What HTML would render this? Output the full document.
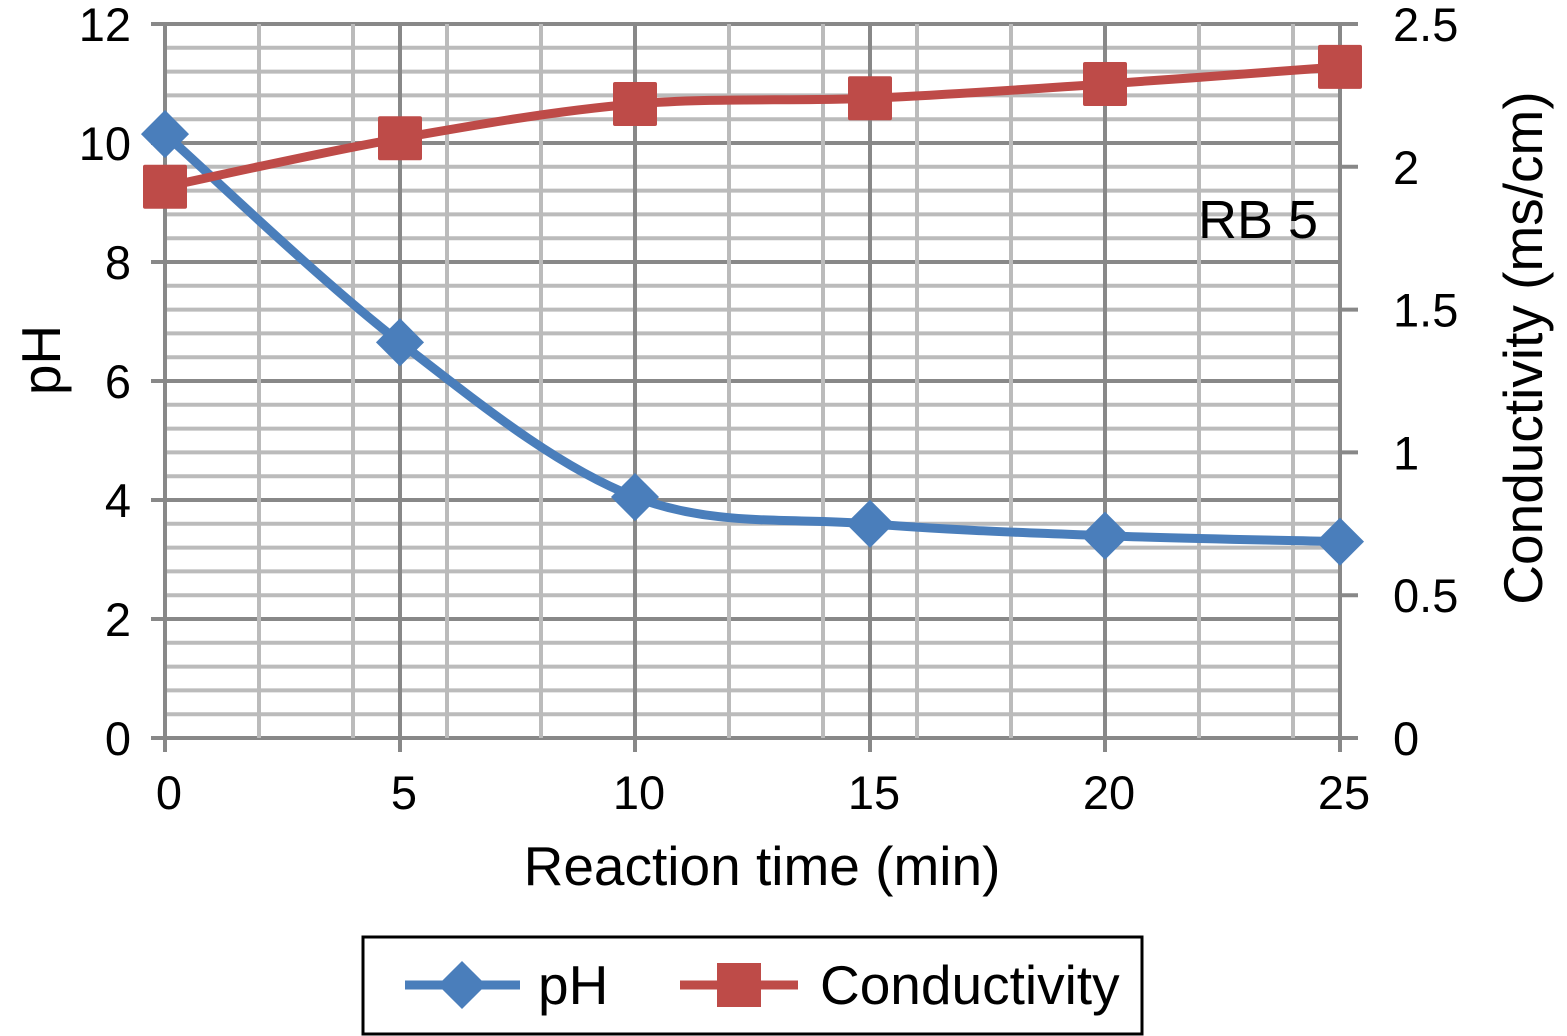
<!DOCTYPE html>
<html><head><meta charset="utf-8"><style>
html,body{margin:0;padding:0;background:#fff}
svg{display:block}
text{font-family:"Liberation Sans",sans-serif;fill:#000}
</style></head><body>
<svg id="chart" width="1567" height="1036" viewBox="0 0 1567 1036"></svg>
<script>
const times=[0,5,10,15,20,25];
const phValues=[10.15,6.65,4.05,3.6,3.4,3.3];
const condValues=[1.93,2.10,2.22,2.24,2.29,2.35];
const xTicks=[0,5,10,15,20,25];
const yLeftTicks=[0,2,4,6,8,10,12];
const yRightTicks=["0","0.5","1","1.5","2","2.5"];
const X0=165,X1=1340,Y0=738,Y1=24;
const xs=v=>X0+(v-0)/25*(X1-X0);
const yl=v=>Y0-(v/12)*(Y0-Y1);
const yr=v=>Y0-(v/2.5)*(Y0-Y1);
const svg=document.getElementById('chart');
const NS='http://www.w3.org/2000/svg';
function mk(t,a,p){const e=document.createElementNS(NS,t);for(const k in a)e.setAttribute(k,a[k]);(p||svg).appendChild(e);return e;}
const grid=mk('g',{});


for(let i=0;i<=30;i++){const v=i*0.4;const y=yl(v);const major=i%5===0;
 mk('line',{x1:major?X0-14:X0,x2:X1,y1:y,y2:y,stroke:major?'#888':'#bbb','stroke-width':4},grid);}
for(let v=0;v<=25;v++){const major=v%5===0;if(!major&&v%2!==0)continue;const x=xs(v);
 mk('line',{x1:x,x2:x,y1:Y1,y2:major?Y0+14:Y0,stroke:major?'#888':'#bbb','stroke-width':4},grid);}
yRightTicks.forEach(t=>{const y=yr(parseFloat(t));mk('line',{x1:X1,x2:X1+18,y1:y,y2:y,stroke:'#888','stroke-width':4},grid);});
xTicks.forEach(t=>{const e=mk('text',{x:xs(t)+4,y:809,'font-size':47,'text-anchor':'middle'});e.textContent=t;
 
 });
yLeftTicks.forEach(t=>{const e=mk('text',{x:131,y:yl(t)+17,'font-size':47,'text-anchor':'end'});e.textContent=t;
 
 });
yRightTicks.forEach(t=>{const e=mk('text',{x:1393,y:yr(parseFloat(t))+17,'font-size':47});e.textContent=t;
 
 });
function smooth(pts){let d='M'+pts[0][0]+','+pts[0][1];
 for(let i=0;i<pts.length-1;i++){const p0=pts[i-1]||pts[i],p1=pts[i],p2=pts[i+1],p3=pts[i+2]||p2;
  const c1=[p1[0]+(p2[0]-p0[0])/6,p1[1]+(p2[1]-p0[1])/6],c2=[p2[0]-(p3[0]-p1[0])/6,p2[1]-(p3[1]-p1[1])/6];
  d+=' C'+c1+' '+c2+' '+p2;}return d;}
const phPts=times.map((t,i)=>[xs(t),yl(phValues[i])]);
const cPts=times.map((t,i)=>[xs(t),yr(condValues[i])]);
const phLine=mk('path',{d:smooth(phPts),fill:'none',stroke:'#4a7ebb','stroke-width':9});


phPts.forEach(p=>{const m=mk('rect',{x:p[0]-17,y:p[1]-17,width:34,height:34,fill:'#4a7ebb',transform:`rotate(45 ${p[0]} ${p[1]})`});
 
 });
const cLine=mk('path',{d:smooth(cPts),fill:'none',stroke:'#be4b48','stroke-width':9});


cPts.forEach(p=>{const m=mk('rect',{x:p[0]-22,y:p[1]-22,width:44,height:44,rx:2,fill:'#be4b48'});
 
 });
</script>
<svg style="position:absolute;left:0;top:0" width="1567" height="1036">
<text x="1198" y="238" font-size="54">RB 5</text>
<text x="762" y="885" font-size="55" text-anchor="middle">Reaction time (min)</text>
<text transform="translate(60,360) rotate(-90)" font-size="55" text-anchor="middle">pH</text>
<text transform="translate(1542,348) rotate(-90)" font-size="55" text-anchor="middle">Conductivity (ms/cm)</text>
<g>
<rect x="363" y="937" width="779" height="97" fill="#fff" stroke="#000" stroke-width="3"/>
<line x1="405" y1="985" x2="520" y2="985" stroke="#4a7ebb" stroke-width="9"/>
<rect x="445" y="968" width="34" height="34" fill="#4a7ebb" transform="rotate(45 462 985)"/>
<text x="538" y="1004" font-size="55">pH</text>
<line x1="680" y1="985" x2="798" y2="985" stroke="#be4b48" stroke-width="9"/>
<rect x="717" y="963" width="44" height="44" fill="#be4b48"/>
<text x="820" y="1004" font-size="55">Conductivity</text>
</g>
</svg>
</body></html>
